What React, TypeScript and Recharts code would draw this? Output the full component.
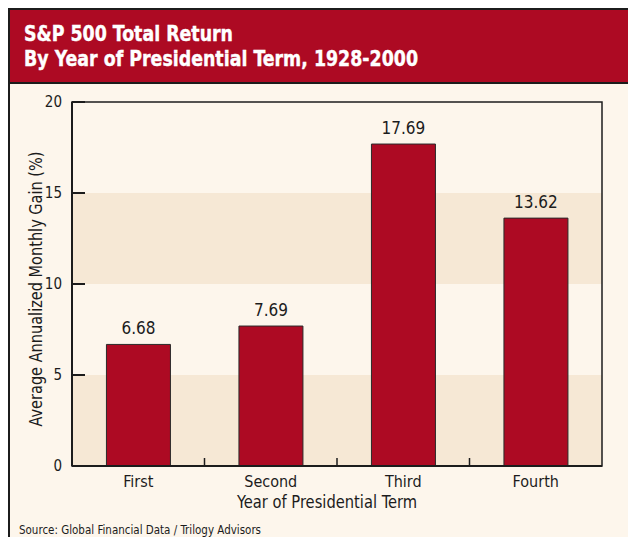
import React from 'react';
import { BarChart, Bar, XAxis, YAxis, ReferenceArea, LabelList, Label } from 'recharts';

const categories = ['First', 'Second', 'Third', 'Fourth'];
const gains = [6.68, 7.69, 17.69, 13.62];
const yTicks = [0, 5, 10, 15, 20];
const shadedBands: [number, number][] = [[0, 5], [10, 15]];
const titleLines = ['S&P 500 Total Return', 'By Year of Presidential Term, 1928-2000'];
const yAxisTitle = 'Average Annualized Monthly Gain (%)';
const xAxisTitle = 'Year of Presidential Term';
const sourceNote = 'Source: Global Financial Data / Trilogy Advisors';

const data = categories.map((term, i) => ({ term, gain: gains[i] }));

const W = 628;
const H = 537;
const RED = '#ad0a23';
const CREAM = '#fdf6ec';
const TAN = '#f6e8d5';
const INK = '#1c1c1c';
const NARROW = "'Liberation Sans Narrow', 'DejaVu Sans Condensed', 'Arial Narrow', sans-serif";

const MARGIN = { top: 102, right: 26, bottom: 41, left: 12 };
const Y_AXIS_W = 60;
const X_AXIS_H = 30;
const PLOT_W = W - MARGIN.left - Y_AXIS_W - MARGIN.right;
const BAND = PLOT_W / categories.length;

const YTick = (props: any) => {
  const { x, y, payload } = props;
  return (
    <g>
      <line x1={x} x2={x + 13} y1={y} y2={y} stroke={INK} strokeWidth={2} />
      <text x={x - 10} y={y} dy={5} textAnchor="end" fontFamily={NARROW} fontSize={15} fill={INK}>
        {payload.value}
      </text>
    </g>
  );
};

const XTick = (props: any) => {
  const { x, y, payload, index } = props;
  return (
    <g>
      {index < categories.length - 1 && (
        <line x1={x + BAND / 2} x2={x + BAND / 2} y1={y} y2={y - 8} stroke={INK} strokeWidth={1.5} />
      )}
      <text x={x} y={y + 21} textAnchor="middle" fontFamily={NARROW} fontSize={16} fill={INK}>
        {payload.value}
      </text>
    </g>
  );
};

const YTitle = (props: any) => {
  const vb = props.viewBox || {};
  const cx = vb.x + 24;
  const cy = vb.y + vb.height / 2 + 5;
  return (
    <text
      x={cx}
      y={cy}
      transform={`rotate(-90 ${cx} ${cy})`}
      textAnchor="middle"
      dominantBaseline="central"
      fontFamily={NARROW}
      fontSize={17}
      fill={INK}
      textLength={275}
      lengthAdjust="spacingAndGlyphs"
    >
      {yAxisTitle}
    </text>
  );
};

const XTitle = (props: any) => {
  const vb = props.viewBox || {};
  const cx = vb.x + vb.width / 2 - 10;
  const by = vb.y + 42;
  return (
    <text
      x={cx}
      y={by}
      textAnchor="middle"
      fontFamily={NARROW}
      fontSize={18}
      fill={INK}
      textLength={180}
      lengthAdjust="spacingAndGlyphs"
    >
      {xAxisTitle}
    </text>
  );
};

export default function App() {
  return (
    <div style={{ position: 'fixed', left: 0, top: 0, width: W, height: H, background: '#fff', overflow: 'hidden' }}>
      <div
        style={{
          position: 'absolute',
          left: 8,
          top: 8,
          width: 700,
          height: 700,
          border: `2px solid ${INK}`,
          background: CREAM,
        }}
      />
      <div
        style={{
          position: 'absolute',
          left: 10,
          top: 10,
          width: 700,
          height: 72,
          background: RED,
          borderBottom: `2px solid ${INK}`,
        }}
      />
      <svg width={W} height={H} style={{ position: 'absolute', left: 0, top: 0 }}>
        <text x={24} y={41} fontFamily={NARROW} fontWeight="bold" fontSize={22} fill="#fff" stroke="#fff" strokeWidth={0.4} textLength={209} lengthAdjust="spacingAndGlyphs">
          {titleLines[0]}
        </text>
        <text x={24} y={66} fontFamily={NARROW} fontWeight="bold" fontSize={22} fill="#fff" stroke="#fff" strokeWidth={0.4} textLength={394} lengthAdjust="spacingAndGlyphs">
          {titleLines[1]}
        </text>
        <text x={19} y={534} fontFamily={NARROW} fontSize={13} fill={INK} textLength={242} lengthAdjust="spacingAndGlyphs">
          {sourceNote}
        </text>
      </svg>
      <div style={{ position: 'absolute', left: 0, top: 0 }}>
        <BarChart width={W} height={H} data={data} margin={MARGIN} barCategoryGap="26%">
          {shadedBands.map(([a, b], i) => (
            <ReferenceArea key={i} y1={a} y2={b} fill={TAN} fillOpacity={1} stroke="none" ifOverflow="visible" />
          ))}
          <XAxis
            dataKey="term"
            height={X_AXIS_H}
            tickSize={0}
            tickMargin={0}
            tick={<XTick />}
            axisLine={{ stroke: INK, strokeWidth: 2 }}
            interval={0}
          >
            <Label content={<XTitle />} />
          </XAxis>
          <YAxis
            width={Y_AXIS_W}
            domain={[0, 20]}
            ticks={yTicks}
            tickSize={0}
            tickMargin={0}
            tick={<YTick />}
            axisLine={{ stroke: INK, strokeWidth: 2 }}
            interval={0}
          >
            <Label content={<YTitle />} />
          </YAxis>
          <Bar dataKey="gain" fill={RED} stroke="#2a2a2a" strokeWidth={1} isAnimationActive={false}>
            <LabelList
              dataKey="gain"
              position="top"
              offset={10}
              fill={INK}
              fontFamily={NARROW}
              fontSize={17}
              formatter={(v: any) => Number(v).toFixed(2)}
            />
          </Bar>
          <ReferenceArea y1={0} y2={20} fill="none" stroke={INK} strokeWidth={1.5} ifOverflow="visible" />
        </BarChart>
      </div>
    </div>
  );
}
